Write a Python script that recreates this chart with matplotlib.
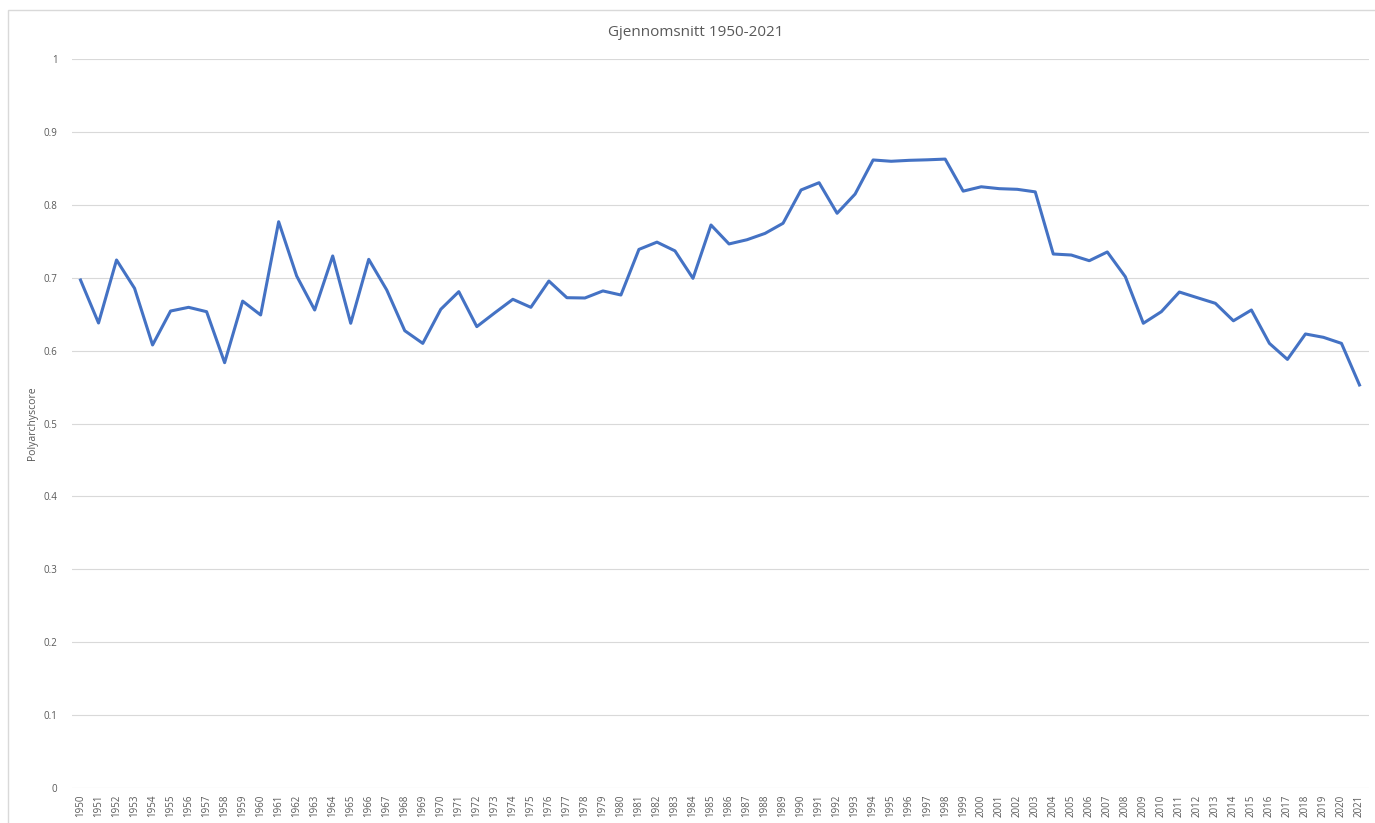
import matplotlib
matplotlib.use("Agg")
import matplotlib.pyplot as plt
from matplotlib.patches import Rectangle

years = [str(y) for y in range(1950, 2022)]
score = [0.697, 0.638, 0.7245, 0.6856, 0.6078, 0.6544, 0.6595, 0.6535, 0.5835, 0.668,
         0.649, 0.777, 0.7025, 0.6558, 0.730, 0.6376, 0.7254, 0.6833, 0.6274, 0.610,
         0.6568, 0.681, 0.633, 0.652, 0.6705, 0.6595, 0.6956, 0.6727, 0.6723, 0.682,
         0.6764, 0.739, 0.749, 0.737, 0.6993, 0.7725, 0.7465, 0.7523, 0.761, 0.7749,
         0.8206, 0.8306, 0.7886, 0.815, 0.8618, 0.860, 0.8613, 0.862, 0.863, 0.819,
         0.825, 0.8224, 0.8215, 0.818, 0.7327, 0.7313, 0.7235, 0.7355, 0.7015, 0.6376,
         0.6535, 0.6805, 0.6727, 0.665, 0.641, 0.6558, 0.610, 0.588, 0.6229, 0.6183,
         0.610, 0.5529]
yticks = [0, 0.1, 0.2, 0.3, 0.4, 0.5, 0.6, 0.7, 0.8, 0.9, 1]
ytick_labels = ["0", "0.1", "0.2", "0.3", "0.4", "0.5", "0.6", "0.7", "0.8", "0.9", "1"]

plt.rcParams['font.family'] = ['Open Sans', 'DejaVu Sans']
W, H = 1375, 823
fig = plt.figure(figsize=(W / 100, H / 100), dpi=100)

# chart border
fig.patches.append(Rectangle((8 / W, -0.01), (W + 10) / W, (H - 10) / H + 0.01, transform=fig.transFigure,
                             fill=False, edgecolor='#d9d9d9', linewidth=1))

ax = fig.add_axes([71.5 / W, 1 - 787.7 / H, 1297 / W, 728.4 / H])
x = list(range(len(years)))
ax.plot(x, score, color='#4472c4', linewidth=2.2, solid_joinstyle='round')

ax.set_xlim(-0.5, len(years) - 0.5)
ax.set_ylim(0, 1)
ax.set_xticks(x)
ax.set_xticklabels(years, rotation=90, fontsize=7, color='#595959')
ax.set_yticks(yticks)
ax.set_yticklabels(ytick_labels, fontsize=7, color='#595959')
ax.tick_params(length=0, pad=5)
ax.tick_params(axis='y', pad=10)
ax.grid(axis='y', color='#d9d9d9', linewidth=0.8)
ax.set_axisbelow(True)
for s in ax.spines.values():
    s.set_visible(False)

ax.set_ylabel('Polyarchyscore', fontsize=7.5, color='#595959', labelpad=4)
fig.text(696 / W, 1 - 32 / H, 'Gjennomsnitt 1950-2021', ha='center', va='center',
         fontsize=11, color='#595959')

fig.savefig('out.png', dpi=100)
